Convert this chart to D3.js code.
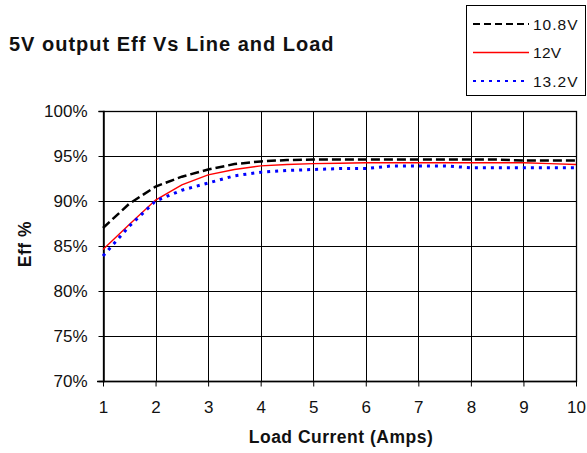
<!DOCTYPE html>
<html><head><meta charset="utf-8">
<script src="https://cdn.jsdelivr.net/npm/d3@7"></script>
<style>body{margin:0;background:#fff;}svg{display:block;font-family:"Liberation Sans",Arial,sans-serif;}</style>
</head><body>
<svg id="c" width="587" height="453"></svg>
<script>
const loadAmps = [1, 1.5, 2, 2.5, 3, 3.5, 4, 4.5, 5, 5.5, 6, 6.5, 7, 7.5, 8, 8.5, 9, 9.5, 10];
const eff108 = [87.0, 89.7, 91.6, 92.7, 93.5, 94.1, 94.4, 94.55, 94.6, 94.6, 94.6, 94.6, 94.6, 94.6, 94.6, 94.6, 94.5, 94.5, 94.5];
const eff12  = [84.6, 87.4, 90.1, 91.8, 92.9, 93.5, 93.9, 94.05, 94.15, 94.2, 94.25, 94.25, 94.25, 94.25, 94.25, 94.25, 94.25, 94.15, 94.05];
const eff132 = [83.9, 87.2, 90.0, 91.2, 92.0, 92.8, 93.2, 93.4, 93.5, 93.6, 93.6, 93.9, 93.9, 93.9, 93.7, 93.7, 93.7, 93.7, 93.7];
const seriesNames = ["10.8V", "12V", "13.2V"];
const xTicks = [1, 2, 3, 4, 5, 6, 7, 8, 9, 10];
const yTicks = [70, 75, 80, 85, 90, 95, 100];

const svg = d3.select("#c");
const L = 103, R = 576, T = 111, B = 381;
const x = d3.scaleLinear().domain([1, 10]).range([L, R]);
const y = d3.scaleLinear().domain([70, 100]).range([B, T]);
const FONT = '"Liberation Sans",Arial,sans-serif';

// gridlines
const g = svg.append("g");
g.selectAll("line.v").data(xTicks).join("line")
  .attr("x1", d => Math.round(x(d)) + 0.5).attr("x2", d => Math.round(x(d)) + 0.5)
  .attr("y1", T).attr("y2", B).attr("stroke", "#000").attr("stroke-width", 1);
g.selectAll("line.h").data(yTicks).join("line")
  .attr("x1", L).attr("x2", R)
  .attr("y1", d => Math.round(y(d)) + 0.5).attr("y2", d => Math.round(y(d)) + 0.5)
  .attr("stroke", "#000").attr("stroke-width", 1);
// plot border
svg.append("rect").attr("x", L + 0.5).attr("y", T + 0.5).attr("width", R - L).attr("height", B - T)
  .attr("fill", "none").attr("stroke", "#000").attr("stroke-width", 1.3);

// axes
const yAxis = d3.axisLeft(y).tickValues(yTicks).tickFormat(d => d + "%").tickSize(5).tickPadding(11);
const ya = svg.append("g").attr("transform", `translate(${L + 0.5},0)`).call(yAxis);
const xAxis = d3.axisBottom(x).tickValues(xTicks).tickFormat(d3.format("d")).tickSize(5).tickPadding(14);
const xa = svg.append("g").attr("transform", `translate(0,${B + 0.5})`).call(xAxis);
[ya, xa].forEach(a => {
  a.select(".domain").attr("stroke", "#000").attr("stroke-width", 1.5);
  a.selectAll(".tick line").attr("stroke", "#000");
  a.selectAll("text").attr("fill", "#111").attr("font-family", FONT).attr("font-size", 17);
});
xa.select(".domain").attr("d", `M${L - 6},0H${R}`);

// lines
const line = d3.line().x((d, i) => x(loadAmps[i])).y(d => y(d));
const styles = [
  {data: eff108, color: "#000", w: 2.5, dash: "9,4"},
  {data: eff12, color: "#f00", w: 1.4, dash: null},
  {data: eff132, color: "#00f", w: 3, dash: "3,5"}
];
styles.forEach(s => {
  svg.append("path").datum(s.data).attr("d", line).attr("fill", "none")
    .attr("stroke", s.color).attr("stroke-width", s.w)
    .attr("stroke-dasharray", s.dash);
});

// titles
svg.append("text").attr("x", 9).attr("y", 51).attr("font-size", 20).attr("font-weight", "bold")
  .attr("letter-spacing", 1).attr("fill", "#111").text("5V output Eff Vs Line and Load");
svg.append("text").attr("x", 341).attr("y", 443).attr("text-anchor", "middle")
  .attr("font-size", 17.5).attr("font-weight", "bold").attr("letter-spacing", 0.5)
  .attr("fill", "#111").text("Load Current (Amps)");
svg.append("text").attr("transform", "translate(31,244) rotate(-90)").attr("text-anchor", "middle")
  .attr("font-size", 17.5).attr("font-weight", "bold").attr("letter-spacing", 0.5)
  .attr("fill", "#111").text("Eff %");

// legend
const lg = svg.append("g");
lg.append("rect").attr("x", 466.5).attr("y", 5.5).attr("width", 119).attr("height", 90)
  .attr("fill", "#fff").attr("stroke", "#000").attr("stroke-width", 1);
const ly = d3.scalePoint().domain(seriesNames).range([24, 81]);
seriesNames.forEach((n, i) => {
  const s = styles[i];
  lg.append("line").attr("x1", 473).attr("x2", 529).attr("y1", ly(n)).attr("y2", ly(n))
    .attr("stroke", s.color).attr("stroke-width", i === 1 ? 1.3 : 2.2)
    .attr("stroke-dasharray", i === 0 ? "7,4" : (i === 2 ? "3,5" : null));
  lg.append("text").attr("x", 533).attr("y", ly(n) + 5.5).attr("font-size", 15.5).attr("fill", "#111")
    .attr("letter-spacing", i === 1 ? 0.3 : 1).text(n);
});
</script>
</body></html>
